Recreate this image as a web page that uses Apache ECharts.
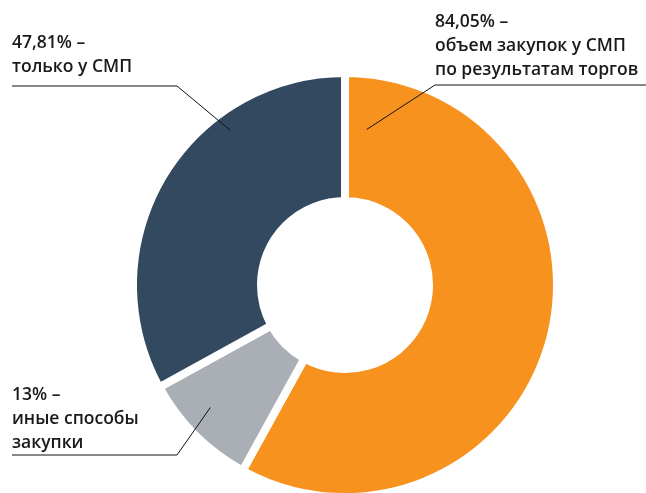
<!DOCTYPE html>
<html><head><meta charset="utf-8">
<script src="https://cdn.jsdelivr.net/npm/echarts@6/dist/echarts.min.js"></script>
<style>html,body{margin:0;padding:0;background:#fff}#c{width:646px;height:493px}</style>
</head><body><div id="c"></div>
<script>
// data
const categories = ['объем закупок у СМП\nпо результатам торгов', 'иные способы\nзакупки', 'только у СМП'];
const values = [84.05, 13, 47.81];
const colors = ['#F7921E', '#A9AFB4', '#33495F'];

// layout (label placement only)
const CX = 345, CY = 285, R_IN = 84, R_OUT = 212;
const anchorFrac = [0.038, 0.583, 0.692];   // position of leader start inside each slice (angle fraction)
const anchorR = [157, 182, 193];
const labelBox = [[435, 10], [12, 383], [12, 31]];
const lineElbow = [[435, 85], [177, 455], [177, 86]];
const lineEnd = [[646, 85], [12, 455], [12, 86]];

const total = values.reduce((a, b) => a + b, 0);
function anchorPoint(i) {
  let start = 0;
  for (let k = 0; k < i; k++) start += values[k] / total * 360;
  const span = values[i] / total * 360;
  const deg = start + span * anchorFrac[i];
  const rad = deg * Math.PI / 180;
  return [CX + anchorR[i] * Math.sin(rad), CY - anchorR[i] * Math.cos(rad)];
}
const fmt = v => String(v).replace('.', ',');

const base = {
  type: 'pie',
  center: [CX, CY],
  radius: [R_IN, R_OUT],
  startAngle: 90,
  clockwise: true,
  emphasis: { disabled: true },
  silent: true
};

const chart = echarts.init(document.getElementById('c'));
chart.setOption({
  animation: false,
  series: [
    Object.assign({}, base, {
      itemStyle: { borderColor: '#fff', borderWidth: 8 },
      data: categories.map((n, i) => ({ name: n, value: values[i], itemStyle: { color: colors[i] } })),
      label: { show: false },
      labelLine: { show: false }
    }),
    Object.assign({}, base, {
      z: 5,
      itemStyle: { color: 'rgba(0,0,0,0)', borderWidth: 0 },
      data: categories.map((n, i) => ({ name: n, value: values[i] })),
      label: {
        show: true,
        position: 'outside',
        formatter: p => fmt(p.value) + '% –\n' + p.name,
        color: '#1a1a1a',
        fontFamily: 'Open Sans',
        fontWeight: 600,
        fontSize: 17.5,
        lineHeight: 24,
        align: 'left',
        overflow: 'none',
        width: 300
      },
      labelLine: { show: true, lineStyle: { color: '#111', width: 1 } },
      labelLayout: function (params) {
        const i = params.dataIndex;
        return {
          x: labelBox[i][0],
          y: labelBox[i][1],
          align: 'left',
          verticalAlign: 'top',
          labelLinePoints: [anchorPoint(i), lineElbow[i], lineEnd[i]]
        };
      }
    })
  ]
});
</script></body></html>
